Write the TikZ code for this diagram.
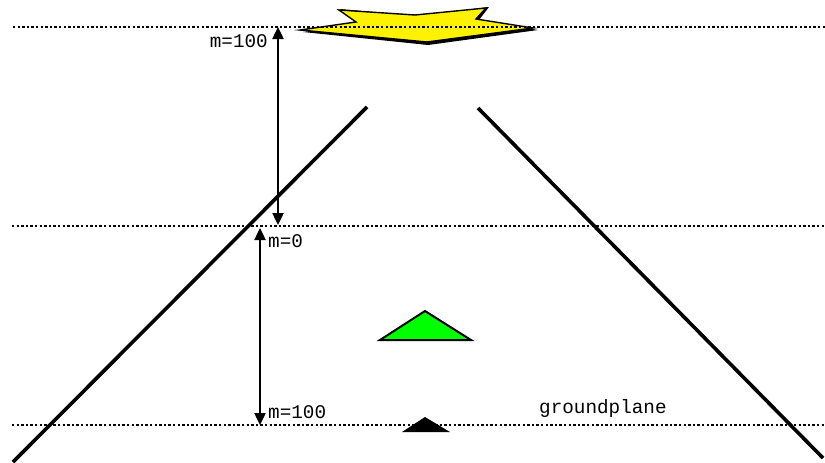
\documentclass[tikz,border=0pt]{standalone}
\usepackage{fontspec}
\newfontfamily\lblfont{Liberation Mono}
\usetikzlibrary{arrows.meta}
\begin{document}
\begin{tikzpicture}[x=1pt,y=-1pt,
  level/.style={line width=2.4pt,dash pattern=on 2.4pt off 2.2pt},
  road/.style={line width=3.6pt},
  measure/.style={line width=2.4pt,{Triangle[length=12pt,width=11pt]}-{Triangle[length=12pt,width=11pt]}},
  lbl/.style={inner sep=0pt,font=\lblfont\fontsize{19.3}{19}\selectfont}]
\useasboundingbox (0,0) rectangle (825,463);
% levels
\coordinate (t1) at (13,27); \coordinate (t2) at (825,27);
\coordinate (m1) at (12,226); \coordinate (m2) at (825,226);
\coordinate (b1) at (12,425); \coordinate (b2) at (825,425);
% star (shadow then body)
\fill[black] (303,32) -- (358,24) -- (340,9) -- (416,16) -- (489,7) -- (479,20) -- (538,30) -- (428,45) -- cycle;
\draw[fill=yellow,line width=1.4pt] (300,30) -- (356,22) -- (339,10) -- (415,15) -- (486,8) -- (476,19) -- (533,28) -- (427,42) -- cycle;
\draw[level] (t1) -- (t2);
\draw[level] (m1) -- (m2);
\draw[level] (b1) -- (b2);
% road edges
\coordinate (l1) at (13,462); \coordinate (l2) at (367,107);
\coordinate (r1) at (478,108); \coordinate (r2) at (823,458);
\draw[road] (l1) -- (l2);
\draw[road] (r1) -- (r2);
% measures
\coordinate (a1) at (278,27); \coordinate (a2) at (278,225);
\coordinate (c1) at (260,228); \coordinate (c2) at (260,425);
\draw[measure] (a1) -- (a2);
\draw[measure] (c1) -- (c2);
\node[lbl,anchor=base east] (lt) at (268,47) {m=100};
\node[lbl,anchor=base west] (lm) at (268,247) {m=0};
\node[lbl,anchor=base west] (lb) at (268,418) {m=100};
\node[lbl,anchor=base west] (gp) at (539,413) {groundplane};
% objects
\draw[fill=green,line width=2pt,line join=miter] (380,340) -- (425,311) -- (471,340) -- cycle;
\fill[black] (402,432) -- (425,417) -- (450,432) -- cycle;
\end{tikzpicture}
\end{document}
